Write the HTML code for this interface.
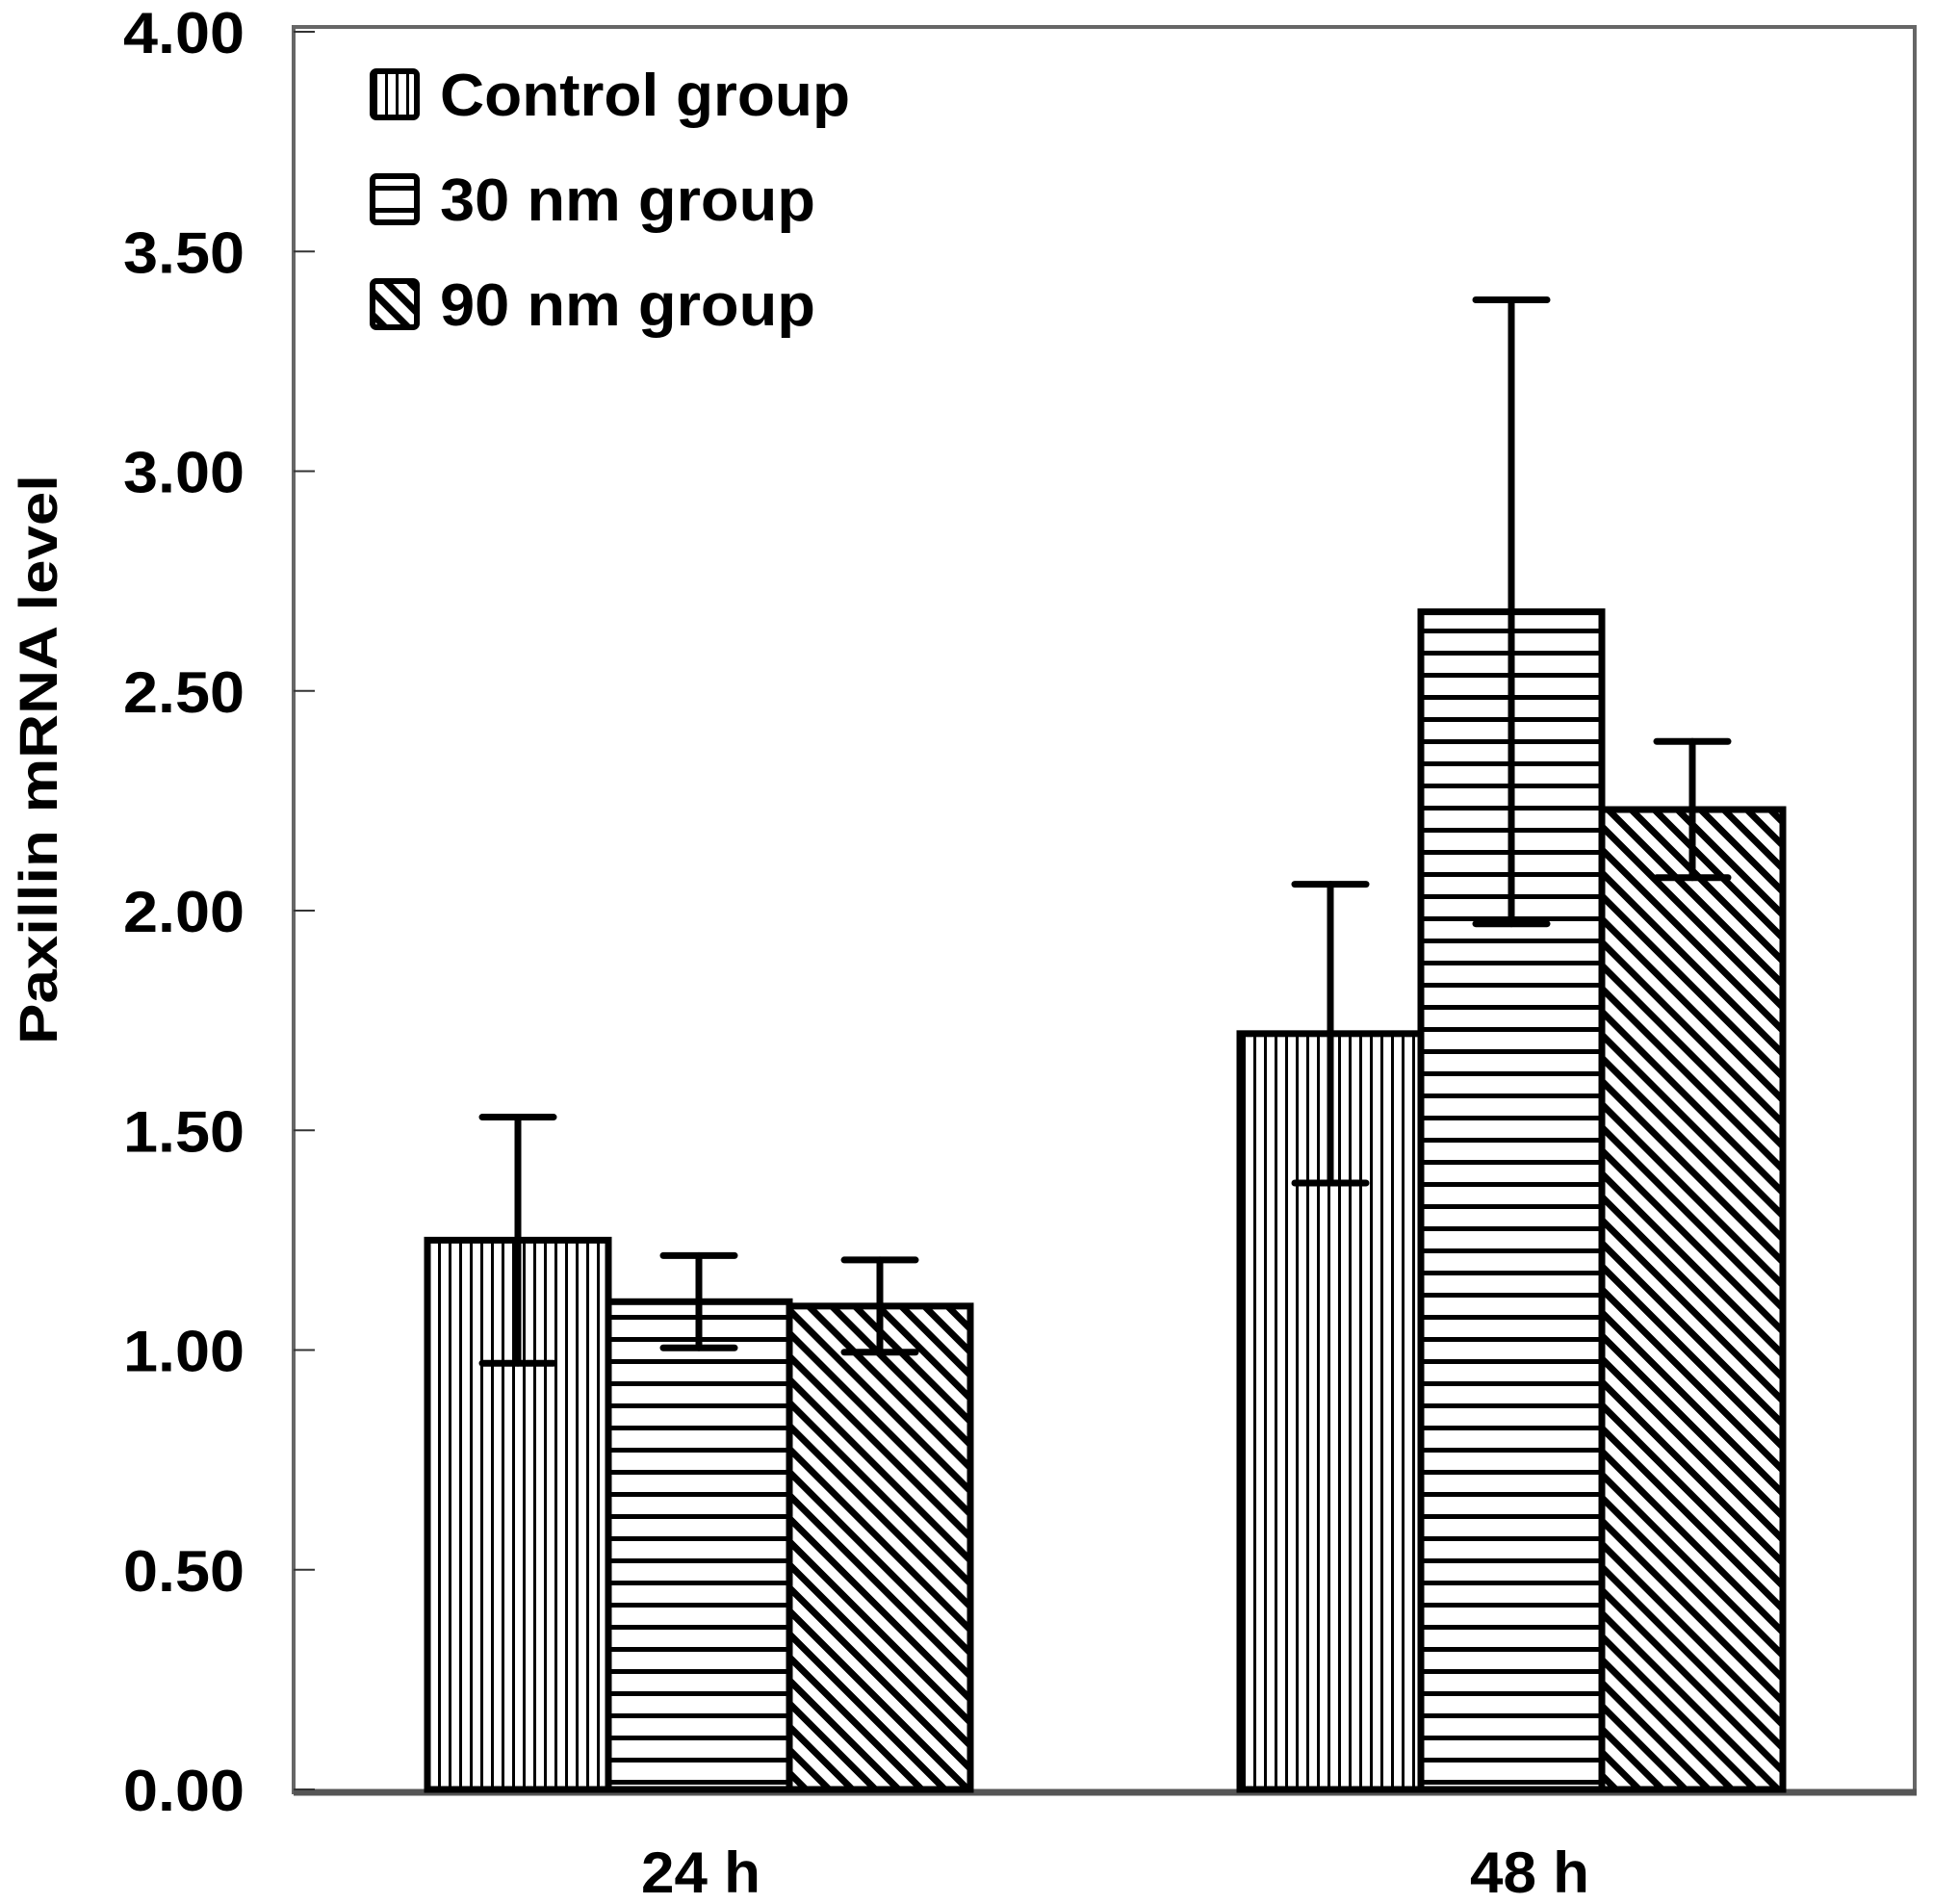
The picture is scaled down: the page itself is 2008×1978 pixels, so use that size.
<!DOCTYPE html>
<html><head><meta charset="utf-8"><style>
html,body{margin:0;padding:0;background:#fff;}
svg{display:block;font-family:"Liberation Sans",sans-serif;font-weight:bold;}
</style></head><body>
<svg id="chart" width="2008" height="1978" viewBox="0 0 2008 1978" xmlns="http://www.w3.org/2000/svg">
<defs>
<pattern id="pv" patternUnits="userSpaceOnUse" width="11" height="20"><rect x="4" y="0" width="3" height="20" fill="#000"/></pattern>
<pattern id="ph" patternUnits="userSpaceOnUse" width="20" height="23"><rect x="0" y="9" width="20" height="5" fill="#000"/></pattern>
<pattern id="pd" patternUnits="userSpaceOnUse" width="17" height="17" patternTransform="rotate(-45)"><rect x="5" y="0" width="7" height="17" fill="#000"/></pattern>
</defs>
<g id="frame"></g>
<g id="bars"></g>
<g id="legend"></g>
</svg>
<script>
const categories = ["24 h", "48 h"];
const seriesNames = ["Control group", "30 nm group", "90 nm group"];
const controlValues = [1.25, 1.72];
const nm30Values = [1.11, 2.68];
const nm90Values = [1.10, 2.23];
const controlErr = [0.28, 0.34];
const nm30Err = [0.105, 0.71];
const nm90Err = [0.105, 0.155];
const yTicks = [0, 0.5, 1, 1.5, 2, 2.5, 3, 3.5, 4];
const yTickLabels = ["0.00","0.50","1.00","1.50","2.00","2.50","3.00","3.50","4.00"];

const NS = "http://www.w3.org/2000/svg";
const fills = ["url(#pv)", "url(#ph)", "url(#pd)"];
const plotL = 305, plotR = 1989, plotT = 28, plotB = 1862;
const y0 = 1859, yTop = 33;
function yScale(v){ return y0 - (y0 - yTop) * v / 4; }
const groupCenters = [726, 1570];
const labelOffsets = [2, 19];
const barW = 188;
function xScale(ci, si){ return groupCenters[ci] + (si - 1.5) * barW; }
function mk(tag, attrs, parent){ const e = document.createElementNS(NS, tag); for (const k in attrs) e.setAttribute(k, attrs[k]); parent.appendChild(e); return e; }

const frame = document.getElementById("frame");
const pf = mk("rect", {x: plotL, y: plotT, width: plotR - plotL, height: plotB - plotT, fill: "none", stroke: "#666", "stroke-width": 4}, frame);


const xa = mk("line", {x1: plotL, x2: plotR + 2, y1: plotB, y2: plotB, stroke: "#555", "stroke-width": 7}, frame);



yTicks.forEach((t, i) => {
  const y = yScale(t);
  const tk = mk("line", {x1: plotL, x2: plotL + 22, y1: y, y2: y, stroke: "#333", "stroke-width": 2}, frame);
  
  
  const tl = mk("text", {x: 128, y: y + 22, "font-size": 60, textLength: 126, lengthAdjust: "spacingAndGlyphs", fill: "#000"}, frame);
  tl.textContent = yTickLabels[i];
  
  
});
const yt = mk("text", {x: 0, y: 0, "text-anchor": "middle", "font-size": 56, textLength: 592, lengthAdjust: "spacingAndGlyphs", fill: "#000", transform: "translate(59,789) rotate(-90)"}, frame);
yt.textContent = "Paxillin mRNA level";



categories.forEach((c, i) => {
  const t = mk("text", {x: groupCenters[i] + labelOffsets[i], y: 1966, "text-anchor": "middle", "font-size": 60, textLength: 124, lengthAdjust: "spacingAndGlyphs", fill: "#000"}, frame);
  t.textContent = c;
  
  
});

const bars = document.getElementById("bars");
const vals = [controlValues, nm30Values, nm90Values];
const errs = [controlErr, nm30Err, nm90Err];
for (let ci = 0; ci < categories.length; ci++) {
  for (let si = 0; si < 3; si++) {
    const x = xScale(ci, si);
    const yv = yScale(vals[si][ci]);
    const r = mk("rect", {x: x, y: yv, width: barW, height: y0 - yv, fill: fills[si], stroke: "#000", "stroke-width": 7}, bars);
    
    
  }
  for (let si = 0; si < 3; si++) {
    const cx = xScale(ci, si) + barW / 2;
    const hi = yScale(vals[si][ci] + errs[si][ci]);
    const lo = yScale(vals[si][ci] - errs[si][ci]);
    const g = mk("g", {stroke: "#000", "stroke-width": 7, "stroke-linecap": "round"}, bars);
    
    
    mk("line", {x1: cx, x2: cx, y1: hi, y2: lo}, g);
    mk("line", {x1: cx - 37, x2: cx + 37, y1: hi, y2: hi}, g);
    mk("line", {x1: cx - 37, x2: cx + 37, y1: lo, y2: lo}, g);
  }
}

const legend = document.getElementById("legend");
const legY = [98, 207, 316];
const legW = [426, 390, 390];
seriesNames.forEach((n, i) => {
  const g = mk("g", {}, legend);
  
  
  mk("rect", {x: 387, y: legY[i] - 24, width: 46, height: 48, rx: 4, fill: fills[i], stroke: "#000", "stroke-width": 6}, g);
  const t = mk("text", {x: 457, y: legY[i] + 22, "font-size": 62, textLength: legW[i], lengthAdjust: "spacingAndGlyphs", fill: "#000"}, g);
  t.textContent = n;
});
</script>
</body></html>
